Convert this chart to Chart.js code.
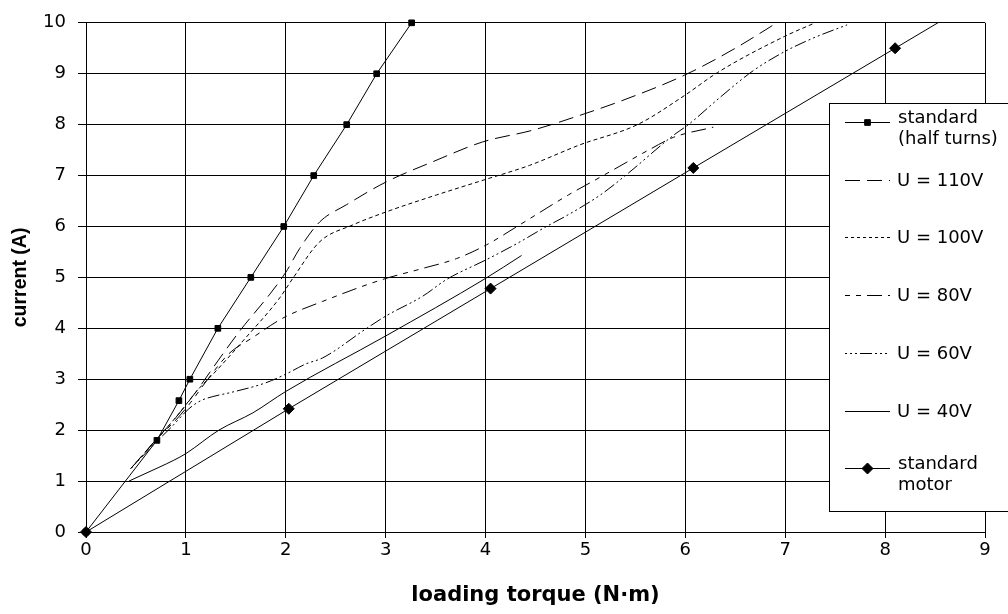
<!DOCTYPE html>
<html>
<head>
<meta charset="utf-8">
<script src="https://cdn.jsdelivr.net/npm/chart.js@4.4.0/dist/chart.umd.min.js"></script>
<style>
  html, body { margin: 0; padding: 0; background: #fff; }
  #wrap { width: 1008px; height: 614px; }
</style>
</head>
<body>
<div id="wrap"><canvas id="chart" width="1008" height="614"></canvas></div>
<script>
// loading torque (N·m) / current (A)
const halfTurnsX = [0, 0.71, 0.93, 1.04, 1.32, 1.65, 1.98, 2.28, 2.61, 2.91, 3.26];
const halfTurnsY = [0, 1.8, 2.58, 3.0, 4.0, 5.0, 6.0, 7.0, 8.0, 9.0, 10.0];

const u110X = [0.45, 0.72, 0.9, 1.1, 1.32, 1.54, 1.84, 2.0, 2.14, 2.34, 2.61, 3.01, 3.47, 3.97, 4.47, 4.94, 5.35, 5.99, 6.5, 6.9];
const u110Y = [1.25, 1.85, 2.25, 2.75, 3.36, 3.95, 4.67, 5.1, 5.57, 6.09, 6.43, 6.88, 7.27, 7.66, 7.89, 8.18, 8.46, 8.97, 9.5, 9.98];

const u100X = [0.45, 0.72, 0.92, 1.11, 1.32, 1.57, 1.94, 2.07, 2.34, 2.67, 3.01, 3.51, 4.01, 4.44, 4.94, 5.52, 5.99, 6.32, 6.99, 7.3];
const u100Y = [1.25, 1.85, 2.3, 2.77, 3.2, 3.75, 4.6, 4.98, 5.7, 6.03, 6.29, 6.62, 6.93, 7.2, 7.6, 8.0, 8.57, 9.02, 9.73, 10.0];

const u80X = [0.45, 0.72, 0.9, 1.05, 1.2, 1.43, 1.67, 1.97, 2.37, 2.97, 3.34, 3.71, 4.01, 4.34, 4.83, 5.15, 5.65, 5.88, 6.28];
const u80Y = [1.25, 1.85, 2.2, 2.55, 2.95, 3.5, 3.82, 4.2, 4.53, 4.96, 5.16, 5.37, 5.64, 6.03, 6.62, 6.97, 7.52, 7.75, 7.95];

const u60X = [0.45, 0.72, 0.85, 1.03, 1.15, 1.27, 1.45, 1.8, 2.0, 2.2, 2.37, 2.81, 3.0, 3.37, 3.61, 4.01, 4.31, 4.61, 4.8, 5.15, 5.4, 5.88, 6.03, 6.35, 6.68, 6.99, 7.28, 7.62];
const u60Y = [1.25, 1.8, 2.05, 2.42, 2.58, 2.66, 2.74, 2.93, 3.1, 3.3, 3.42, 4.0, 4.24, 4.63, 4.96, 5.35, 5.66, 6.0, 6.2, 6.62, 7.0, 7.79, 8.0, 8.54, 9.06, 9.43, 9.7, 9.96];

const u40X = [0.43, 0.73, 0.88, 1.0, 1.33, 1.67, 2.0, 3.0, 4.0, 4.36];
const u40Y = [1.0, 1.27, 1.41, 1.54, 2.0, 2.34, 2.76, 3.85, 4.98, 5.43];

const motorX = [0, 2.03, 4.05, 6.08, 8.1, 8.7];
const motorY = [0, 2.42, 4.78, 7.15, 9.5, 10.2];

const xTicks = [0, 1, 2, 3, 4, 5, 6, 7, 8, 9];
const yTicks = [0, 1, 2, 3, 4, 5, 6, 7, 8, 9, 10];

const legendLabels = [
  ['standard', '(half turns)'],
  ['U = 110V'],
  ['U = 100V'],
  ['U = 80V'],
  ['U = 60V'],
  ['U = 40V'],
  ['standard', 'motor']
];

const FONT = "'DejaVu Sans', sans-serif";

function pts(xs, ys) {
  return xs.map((x, i) => ({ x: x, y: ys[i] }));
}

function curve(xs, ys, dash) {
  return {
    data: pts(xs, ys),
    borderColor: '#000',
    borderWidth: 1,
    borderDash: dash,
    pointRadius: 0,
    cubicInterpolationMode: 'monotone',
    clip: { left: 0, top: 0, right: 0, bottom: 0 }
  };
}

const datasets = [
  {
    data: pts(halfTurnsX, halfTurnsY),
    borderColor: '#000',
    borderWidth: 1,
    pointStyle: 'rect',
    pointRadius: 4,
    pointBackgroundColor: '#000',
    pointBorderColor: '#000',
    clip: 6
  },
  curve(u110X, u110Y, [15, 7]),
  curve(u100X, u100Y, [4, 3]),
  curve(u80X, u80Y, [5, 6, 5, 6, 15, 6]),
  curve(u60X, u60Y, [2, 3, 2, 3, 2, 3, 12, 3]),
  curve(u40X, u40Y, []),
  {
    data: pts(motorX, motorY),
    borderColor: '#000',
    borderWidth: 1,
    pointStyle: 'rectRot',
    pointRadius: motorX.map((x, i) => motorY[i] > 10 ? 0 : 5.5),
    pointBackgroundColor: '#000',
    pointBorderColor: '#000',
    clip: { left: 8, top: 0, right: 0, bottom: 8 }
  }
];

const boxLegend = {
  id: 'boxLegend',
  afterDraw(chart) {
    const c = chart.ctx;
    c.save();
    c.fillStyle = '#fff';
    c.strokeStyle = '#000';
    c.lineWidth = 1;
    c.fillRect(829.5, 103.5, 180, 408);
    c.strokeRect(829.5, 103.5, 180, 408);
    c.font = '18px ' + FONT;
    c.textAlign = 'left';
    legendLabels.forEach((lines, i) => {
      const ds = chart.data.datasets[i];
      const y = Math.round(122 + i * 57.7) + 0.5;
      c.strokeStyle = '#000';
      c.setLineDash(i === 2 ? [3, 3] : (ds.borderDash || []));
      c.beginPath();
      c.moveTo(845, y);
      c.lineTo(890, y);
      c.stroke();
      c.setLineDash([]);
      if (ds.pointStyle) {
        c.fillStyle = '#000';
        Chart.helpers.drawPoint(c, { pointStyle: ds.pointStyle, radius: ds.pointStyle === 'rect' ? 4 : 5.5, rotation: 0, borderWidth: 1 }, 867.5, y);
      }
      c.fillStyle = '#000';
      if (lines.length > 1) {
        c.textBaseline = 'alphabetic';
        c.fillText(lines[0], 898, y);
        c.fillText(lines[1], 898, y + 21);
      } else {
        c.textBaseline = 'middle';
        c.fillText(lines[0], 897, y + 1);
      }
    });
    c.restore();
  }
};

new Chart(document.getElementById('chart'), {
  type: 'line',
  data: { datasets: datasets },
  plugins: [boxLegend],
  options: {
    responsive: false,
    animation: false,
    layout: { padding: { top: 20, right: 23, left: 0, bottom: 0 } },
    plugins: { legend: { display: false }, tooltip: { enabled: false } },
    scales: {
      x: {
        type: 'linear',
        min: 0,
        max: 9,
        afterBuildTicks: s => { s.ticks = xTicks.map(v => ({ value: v })); },
        afterFit: s => { s.height = 82; },
        ticks: { color: '#000', font: { family: FONT, size: 18 }, padding: 2, maxRotation: 0 },
        grid: { color: '#000', lineWidth: 1, tickLength: 6 },
        border: { color: '#000' },
        title: {
          display: true,
          text: 'loading torque (N·m)',
          color: '#000',
          font: { family: FONT, size: 21, weight: 'bold' },
          padding: { top: 0, bottom: 6 }
        }
      },
      y: {
        type: 'linear',
        min: 0,
        max: 10,
        afterBuildTicks: s => { s.ticks = yTicks.map(v => ({ value: v })); },
        afterFit: s => { s.width = 86; },
        ticks: { color: '#000', font: { family: FONT, size: 18 }, padding: 12 },
        grid: { color: '#000', lineWidth: 1, tickLength: 8 },
        border: { color: '#000' },
        title: {
          display: true,
          text: 'current (A)',
          color: '#000',
          font: { family: "'Liberation Sans', Arial, sans-serif", size: 19.5, weight: 'bold' },
          padding: { top: 9, bottom: 0 }
        }
      }
    }
  }
});
</script>
</body>
</html>
